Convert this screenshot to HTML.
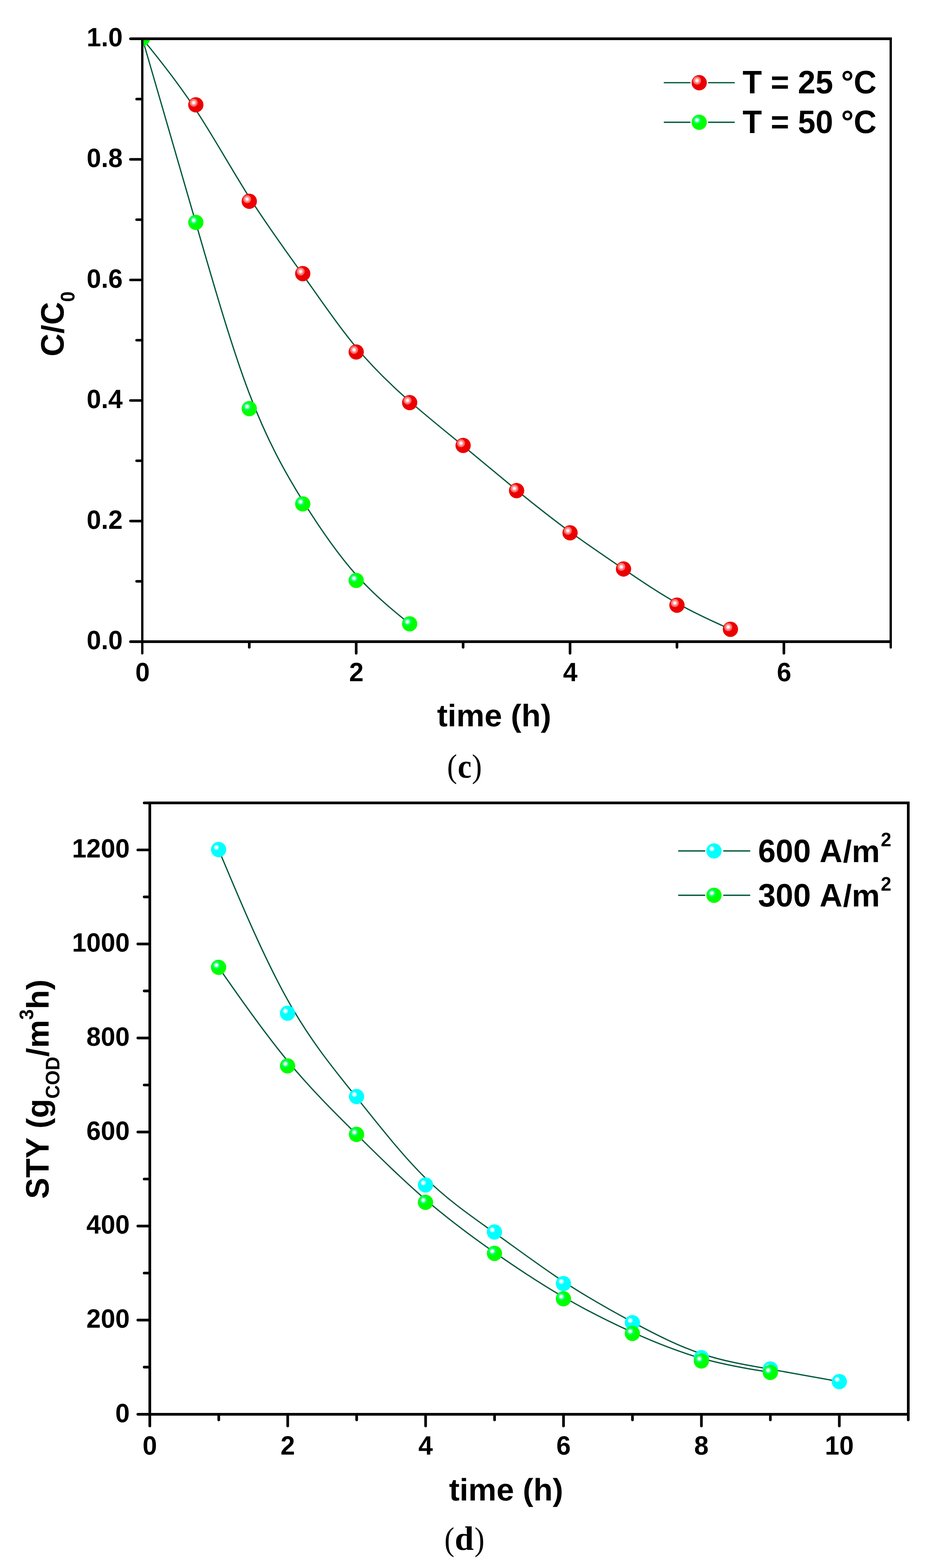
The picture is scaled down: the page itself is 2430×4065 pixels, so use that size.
<!DOCTYPE html>
<html lang="en"><head><meta charset="utf-8"><title>Figure (c) and (d)</title>
<style>
html,body{margin:0;padding:0;background:#fff;}
body{width:2430px;height:4065px;}
svg{display:block;}
.ax{stroke:#000;fill:none;stroke-linecap:butt;}
.tk{stroke:#000;fill:none;stroke-linecap:round;}
.cv{stroke:#00593a;fill:none;stroke-width:3.3;stroke-linecap:round;stroke-linejoin:round;}
text{font-family:"Liberation Sans",Arial,Helvetica,sans-serif;font-weight:bold;fill:#000;font-kerning:none;font-variant-ligatures:none;text-rendering:geometricPrecision;white-space:pre;}
.cap{font-family:"Liberation Serif","Times New Roman",serif;font-weight:normal;}
.capb{font-family:"Liberation Serif","Times New Roman",serif;font-weight:bold;}
</style></head><body>
<svg width="2430" height="4065" viewBox="0 0 2430 4065" role="img" aria-label="Figure panels (c) and (d)">
<defs>
<g id="mr"><circle r="19.8" fill="#eb0000"/><circle cx="-5.6" cy="-5.6" r="10.5" fill="#ff6b6b"/><circle cx="-5.6" cy="-5.6" r="6.5" fill="#ffb0b0"/><circle cx="-5.6" cy="-5.6" r="3.55" fill="#fffafa"/></g>
<g id="mg"><circle r="19.8" fill="#00ff00"/><circle cx="-5.6" cy="-5.6" r="10.5" fill="#00ff64"/><circle cx="-5.6" cy="-5.6" r="6.5" fill="#8cffaa"/><circle cx="-5.6" cy="-5.6" r="3.55" fill="#f8fffa"/></g>
<g id="mc"><circle r="19.8" fill="#00ffff"/><circle cx="-5.6" cy="-5.6" r="10.5" fill="#00ffff"/><circle cx="-5.6" cy="-5.6" r="6.5" fill="#aaffff"/><circle cx="-5.6" cy="-5.6" r="3.55" fill="#f6ffff"/></g>
<clipPath id="cp1"><rect x="369" y="100.5" width="1941" height="1563"/></clipPath>
</defs>
<rect width="2430" height="4065" fill="#fff"/>
<g id="chart1">
<g clip-path="url(#cp1)">
<path class="cv" d="M369.2 99.9 C369.2 99.9 369.2 99.9 392.31 128.55 C415.41 157.2 461.63 214.5 507.84 284.82 C554.06 355.14 600.27 438.48 646.49 511.41 C692.7 584.34 738.91 646.84 785.13 711.96 C831.34 777.07 877.56 844.79 923.77 900.52 C969.99 956.26 1016.2 1000.02 1062.41 1040.38 C1108.63 1080.75 1154.84 1117.74 1201.06 1155.76 C1247.27 1193.79 1293.49 1232.86 1339.7 1270.62 C1385.91 1308.39 1432.13 1344.85 1478.34 1378.71 C1524.56 1412.57 1570.77 1443.82 1616.99 1475.08 C1663.2 1506.33 1709.41 1537.58 1755.63 1563.63 C1801.84 1589.67 1848.06 1610.51 1871.16 1620.93 C1894.27 1631.35 1894.27 1631.35 1894.27 1631.35"/>
<path class="cv" d="M369.2 99.9 C369.2 99.9 369.2 99.9 392.31 179.34 C415.41 258.77 461.63 417.65 507.84 577.57 C554.06 737.48 600.27 898.44 646.49 1020.07 C692.7 1141.7 738.91 1224 785.13 1298.23 C831.34 1372.46 877.56 1438.61 923.77 1490.44 C969.99 1542.27 1016.2 1579.78 1039.31 1598.53 C1062.41 1617.28 1062.41 1617.28 1062.41 1617.28"/>
<use href="#mr" x="507.84" y="271.8"/>
<use href="#mr" x="646.49" y="521.83"/>
<use href="#mr" x="785.13" y="709.35"/>
<use href="#mr" x="923.77" y="912.5"/>
<use href="#mr" x="1062.41" y="1043.77"/>
<use href="#mr" x="1201.06" y="1154.72"/>
<use href="#mr" x="1339.7" y="1271.92"/>
<use href="#mr" x="1478.34" y="1381.31"/>
<use href="#mr" x="1616.99" y="1475.08"/>
<use href="#mr" x="1755.63" y="1568.84"/>
<use href="#mr" x="1894.27" y="1631.35"/>
<use href="#mg" x="369.2" y="99.9"/>
<use href="#mg" x="507.84" y="576.52"/>
<use href="#mg" x="646.49" y="1059.4"/>
<use href="#mg" x="785.13" y="1306.3"/>
<use href="#mg" x="923.77" y="1504.77"/>
<use href="#mg" x="1062.41" y="1617.28"/>
</g>
<rect x="366" y="97" width="6" height="1570"/>
<rect x="2307" y="97" width="6" height="1570"/>
<rect x="366" y="97" width="1947" height="7"/>
<rect x="366" y="1660" width="1947" height="7"/>
<line class="tk" stroke-width="7" x1="338.5" y1="100.5" x2="369" y2="100.5"/>
<line class="tk" stroke-width="7" x1="338.5" y1="1663.5" x2="369" y2="1663.5"/>
<line class="tk" stroke-width="6" x1="369" y1="1663.5" x2="369" y2="1693.8"/>
<line class="tk" stroke-width="6" x1="2310" y1="1663.5" x2="2310" y2="1678.5"/>
<line class="tk" stroke-width="6.6" x1="354.3" y1="1507.12" x2="368" y2="1507.12"/>
<line class="tk" stroke-width="6.6" x1="338.3" y1="1350.84" x2="368" y2="1350.84"/>
<line class="tk" stroke-width="6.6" x1="354.3" y1="1194.56" x2="368" y2="1194.56"/>
<line class="tk" stroke-width="6.6" x1="338.3" y1="1038.28" x2="368" y2="1038.28"/>
<line class="tk" stroke-width="6.6" x1="354.3" y1="882" x2="368" y2="882"/>
<line class="tk" stroke-width="6.6" x1="338.3" y1="725.72" x2="368" y2="725.72"/>
<line class="tk" stroke-width="6.6" x1="354.3" y1="569.44" x2="368" y2="569.44"/>
<line class="tk" stroke-width="6.6" x1="338.3" y1="413.16" x2="368" y2="413.16"/>
<line class="tk" stroke-width="6.6" x1="354.3" y1="256.88" x2="368" y2="256.88"/>
<text class="rt" font-size="67.3" transform="translate(224.74 1683.2) scale(1 1.02)" xml:space="preserve">0.0</text>
<text class="rt" font-size="67.3" transform="translate(224.74 1370.64) scale(1 1.02)" xml:space="preserve">0.2</text>
<text class="rt" font-size="67.3" transform="translate(224.74 1058.08) scale(1 1.02)" xml:space="preserve">0.4</text>
<text class="rt" font-size="67.3" transform="translate(224.74 745.52) scale(1 1.02)" xml:space="preserve">0.6</text>
<text class="rt" font-size="67.3" transform="translate(224.74 432.96) scale(1 1.02)" xml:space="preserve">0.8</text>
<text class="rt" font-size="67.3" transform="translate(224.74 120.4) scale(1 1.02)" xml:space="preserve">1.0</text>
<line class="tk" stroke-width="6.8" x1="646.49" y1="1664.5" x2="646.49" y2="1678.1"/>
<line class="tk" stroke-width="6.8" x1="923.77" y1="1664.5" x2="923.77" y2="1693.6"/>
<line class="tk" stroke-width="6.8" x1="1201.06" y1="1664.5" x2="1201.06" y2="1678.1"/>
<line class="tk" stroke-width="6.8" x1="1478.34" y1="1664.5" x2="1478.34" y2="1693.6"/>
<line class="tk" stroke-width="6.8" x1="1755.63" y1="1664.5" x2="1755.63" y2="1678.1"/>
<line class="tk" stroke-width="6.8" x1="2032.91" y1="1664.5" x2="2032.91" y2="1693.6"/>
<text class="rt" font-size="67.3" transform="translate(350.99 1766.1) scale(1 1.02)" xml:space="preserve">0</text>
<text class="rt" font-size="67.3" transform="translate(905.56 1766.1) scale(1 1.02)" xml:space="preserve">2</text>
<text class="rt" font-size="67.3" transform="translate(1460.13 1766.1) scale(1 1.02)" xml:space="preserve">4</text>
<text class="rt" font-size="67.3" transform="translate(2014.7 1766.1) scale(1 1.02)" xml:space="preserve">6</text>
<text class="rt" font-size="82" transform="translate(1133.46 1883.1) scale(1 0.985)" xml:space="preserve">time (h)</text>
<text class="rt" font-size="82" transform="translate(165.1 924) rotate(-90) scale(1 1.027)" xml:space="preserve">C</text><text class="rt" font-size="82" transform="translate(165.1 864.78) rotate(-90) scale(1 0.985)" xml:space="preserve">/</text><text class="rt" font-size="82" transform="translate(165.1 842) rotate(-90) scale(1 1.027)" xml:space="preserve">C</text><text class="rt" font-size="49" transform="translate(192.6 782.78) rotate(-90) scale(1 1.0405)" xml:space="preserve">0</text>
<line class="cv" x1="1722.8" y1="214.4" x2="1789.4" y2="214.4"/>
<line class="cv" x1="1837.6" y1="214.4" x2="1904.2" y2="214.4"/>
<use href="#mr" x="1813.3" y="214.4"/>
<text class="rt" font-size="82" transform="translate(1925.8 242.2) scale(1 1.027)" xml:space="preserve">T = 25</text><text class="rt" font-size="82" transform="translate(2158.55 242.2) scale(1 1.027)" xml:space="preserve"> °C</text>
<line class="cv" x1="1722.8" y1="317.0" x2="1789.4" y2="317.0"/>
<line class="cv" x1="1837.6" y1="317.0" x2="1904.2" y2="317.0"/>
<use href="#mg" x="1813.3" y="317"/>
<text class="rt" font-size="82" transform="translate(1925.8 344.8) scale(1 1.027)" xml:space="preserve">T = 50</text><text class="rt" font-size="82" transform="translate(2158.55 344.8) scale(1 1.027)" xml:space="preserve"> °C</text>
<text class="cap" font-size="86" transform="translate(1159.5 2014.7) scale(0.905 1)" xml:space="preserve">(</text><text class="capb" font-size="88" transform="translate(1187 2015.5) scale(0.92 1)" xml:space="preserve">c</text><text class="cap" font-size="86" transform="translate(1223.7 2014.7) scale(0.905 1)" xml:space="preserve">)</text>
</g>
<g id="chart2">
<path class="cv" d="M566.86 2202.4 C566.86 2202.4 566.86 2202.4 596.67 2273.12 C626.48 2343.83 686.11 2485.27 745.73 2591.99 C805.35 2698.71 864.97 2770.73 924.59 2844.94 C984.21 2919.15 1043.83 2995.55 1103.45 3054.08 C1163.08 3112.6 1222.7 3153.24 1282.32 3195.87 C1341.94 3238.51 1401.56 3283.13 1461.18 3322.31 C1520.8 3361.49 1580.42 3395.22 1640.05 3427.24 C1699.67 3459.27 1759.29 3489.59 1818.91 3509.6 C1878.53 3529.62 1938.15 3539.33 1997.77 3549.65 C2057.39 3559.98 2117.02 3570.91 2146.83 3576.38 C2176.64 3581.84 2176.64 3581.84 2176.64 3581.84"/>
<path class="cv" d="M566.86 2507.7 C566.86 2507.7 566.86 2507.7 596.67 2550.29 C626.48 2592.88 686.11 2678.07 745.73 2750.27 C805.35 2822.46 864.97 2881.68 924.59 2940.63 C984.21 2999.58 1043.83 3058.26 1103.45 3109.67 C1163.08 3161.08 1222.7 3205.22 1282.32 3246.9 C1341.94 3288.58 1401.56 3327.79 1461.18 3362.4 C1520.8 3397.01 1580.42 3427 1640.05 3453.86 C1699.67 3480.73 1759.29 3504.46 1818.91 3521.29 C1878.53 3538.11 1938.15 3548.03 1967.96 3552.99 C1997.77 3557.94 1997.77 3557.94 1997.77 3557.94"/>
<use href="#mc" x="566.86" y="2202.4"/>
<use href="#mc" x="745.73" y="2626.7"/>
<use href="#mc" x="924.59" y="2842.74"/>
<use href="#mc" x="1103.45" y="3071.96"/>
<use href="#mc" x="1282.32" y="3193.88"/>
<use href="#mc" x="1461.18" y="3327.75"/>
<use href="#mc" x="1640.05" y="3428.95"/>
<use href="#mc" x="1818.91" y="3519.9"/>
<use href="#mc" x="1997.77" y="3549.04"/>
<use href="#mc" x="2176.64" y="3581.84"/>
<use href="#mg" x="566.86" y="2507.7"/>
<use href="#mg" x="745.73" y="2763.25"/>
<use href="#mg" x="924.59" y="2940.89"/>
<use href="#mg" x="1103.45" y="3116.95"/>
<use href="#mg" x="1282.32" y="3249.36"/>
<use href="#mg" x="1461.18" y="3367.01"/>
<use href="#mg" x="1640.05" y="3456.99"/>
<use href="#mg" x="1818.91" y="3528.2"/>
<use href="#mg" x="1997.77" y="3557.94"/>
<rect x="385" y="2078" width="7" height="1592"/>
<rect x="2352" y="2078" width="7" height="1592"/>
<rect x="385" y="2078" width="1974" height="7"/>
<rect x="385" y="3663" width="1974" height="7"/>
<line class="tk" stroke-width="7" x1="374" y1="2081.5" x2="388.5" y2="2081.5"/>
<line class="tk" stroke-width="7" x1="357.5" y1="3666.5" x2="388.5" y2="3666.5"/>
<line class="tk" stroke-width="7" x1="388.5" y1="3666.5" x2="388.5" y2="3696.7"/>
<line class="tk" stroke-width="7" x1="2355.5" y1="3666.5" x2="2355.5" y2="3681"/>
<line class="tk" stroke-width="6.9" x1="373.95" y1="3544.21" x2="387.5" y2="3544.21"/>
<line class="tk" stroke-width="6.9" x1="357.45" y1="3422.32" x2="387.5" y2="3422.32"/>
<line class="tk" stroke-width="6.9" x1="373.95" y1="3300.42" x2="387.5" y2="3300.42"/>
<line class="tk" stroke-width="6.9" x1="357.45" y1="3178.53" x2="387.5" y2="3178.53"/>
<line class="tk" stroke-width="6.9" x1="373.95" y1="3056.64" x2="387.5" y2="3056.64"/>
<line class="tk" stroke-width="6.9" x1="357.45" y1="2934.75" x2="387.5" y2="2934.75"/>
<line class="tk" stroke-width="6.9" x1="373.95" y1="2812.85" x2="387.5" y2="2812.85"/>
<line class="tk" stroke-width="6.9" x1="357.45" y1="2690.96" x2="387.5" y2="2690.96"/>
<line class="tk" stroke-width="6.9" x1="373.95" y1="2569.07" x2="387.5" y2="2569.07"/>
<line class="tk" stroke-width="6.9" x1="357.45" y1="2447.18" x2="387.5" y2="2447.18"/>
<line class="tk" stroke-width="6.9" x1="373.95" y1="2325.28" x2="387.5" y2="2325.28"/>
<line class="tk" stroke-width="6.9" x1="357.45" y1="2203.39" x2="387.5" y2="2203.39"/>
<text class="rt" font-size="67.3" transform="translate(298.97 3686.8) scale(1 1.02)" xml:space="preserve">0</text>
<text class="rt" font-size="67.3" transform="translate(224.11 3442.12) scale(1 1.02)" xml:space="preserve">200</text>
<text class="rt" font-size="67.3" transform="translate(224.11 3198.33) scale(1 1.02)" xml:space="preserve">400</text>
<text class="rt" font-size="67.3" transform="translate(224.11 2954.55) scale(1 1.02)" xml:space="preserve">600</text>
<text class="rt" font-size="67.3" transform="translate(224.11 2710.76) scale(1 1.02)" xml:space="preserve">800</text>
<text class="rt" font-size="67.3" transform="translate(186.68 2466.98) scale(1 1.02)" xml:space="preserve">1000</text>
<text class="rt" font-size="67.3" transform="translate(186.68 2223.19) scale(1 1.02)" xml:space="preserve">1200</text>
<line class="tk" stroke-width="6.9" x1="567.32" y1="3667.5" x2="567.32" y2="3681.05"/>
<line class="tk" stroke-width="6.9" x1="746.14" y1="3667.5" x2="746.14" y2="3696.75"/>
<line class="tk" stroke-width="6.9" x1="924.95" y1="3667.5" x2="924.95" y2="3681.05"/>
<line class="tk" stroke-width="6.9" x1="1103.77" y1="3667.5" x2="1103.77" y2="3696.75"/>
<line class="tk" stroke-width="6.9" x1="1282.59" y1="3667.5" x2="1282.59" y2="3681.05"/>
<line class="tk" stroke-width="6.9" x1="1461.41" y1="3667.5" x2="1461.41" y2="3696.75"/>
<line class="tk" stroke-width="6.9" x1="1640.23" y1="3667.5" x2="1640.23" y2="3681.05"/>
<line class="tk" stroke-width="6.9" x1="1819.05" y1="3667.5" x2="1819.05" y2="3696.75"/>
<line class="tk" stroke-width="6.9" x1="1997.86" y1="3667.5" x2="1997.86" y2="3681.05"/>
<line class="tk" stroke-width="6.9" x1="2176.68" y1="3667.5" x2="2176.68" y2="3696.75"/>
<text class="rt" font-size="67.3" transform="translate(369.79 3771) scale(1 1.02)" xml:space="preserve">0</text>
<text class="rt" font-size="67.3" transform="translate(727.42 3771) scale(1 1.02)" xml:space="preserve">2</text>
<text class="rt" font-size="67.3" transform="translate(1085.06 3771) scale(1 1.02)" xml:space="preserve">4</text>
<text class="rt" font-size="67.3" transform="translate(1442.69 3771) scale(1 1.02)" xml:space="preserve">6</text>
<text class="rt" font-size="67.3" transform="translate(1800.33 3771) scale(1 1.02)" xml:space="preserve">8</text>
<text class="rt" font-size="67.3" transform="translate(2139.25 3771) scale(1 1.02)" xml:space="preserve">10</text>
<text class="rt" font-size="82" transform="translate(1164.46 3889.6) scale(1 0.985)" xml:space="preserve">time (h)</text>
<text class="rt" font-size="82" transform="translate(126 3108) rotate(-90) scale(1 1.027)" xml:space="preserve">STY</text><text class="rt" font-size="82" transform="translate(126 2948.52) rotate(-90) scale(1 0.985)" xml:space="preserve"> (g</text><text class="rt" font-size="49" transform="translate(153.5 2848.35) rotate(-90) scale(1 1.0405)" xml:space="preserve">COD</text><text class="rt" font-size="82" transform="translate(126 2739.46) rotate(-90) scale(1 0.985)" xml:space="preserve">/m</text><text class="rt" font-size="49" transform="translate(86 2643.77) rotate(-90) scale(1 1.0405)" xml:space="preserve">3</text><text class="rt" font-size="82" transform="translate(126 2616.52) rotate(-90) scale(1 0.985)" xml:space="preserve">h)</text>
<line class="cv" x1="1760" y1="2206" x2="1827.8" y2="2206"/>
<line class="cv" x1="1877" y1="2206" x2="1944.4" y2="2206"/>
<use href="#mc" x="1851.6" y="2206"/>
<text class="rt" font-size="82" transform="translate(1966 2235.1) scale(1 1.027)" xml:space="preserve">600 A</text><text class="rt" font-size="82" transform="translate(2186.31 2235.1) scale(1 0.985)" xml:space="preserve">/m</text><text class="rt" font-size="49" transform="translate(2284.21 2193.8) scale(1 1.0405)" xml:space="preserve">2</text>
<line class="cv" x1="1760" y1="2321.0" x2="1827.8" y2="2321.0"/>
<line class="cv" x1="1877" y1="2321.0" x2="1944.4" y2="2321.0"/>
<use href="#mg" x="1851.6" y="2321"/>
<text class="rt" font-size="82" transform="translate(1966 2350.1) scale(1 1.027)" xml:space="preserve">300 A</text><text class="rt" font-size="82" transform="translate(2186.31 2350.1) scale(1 0.985)" xml:space="preserve">/m</text><text class="rt" font-size="49" transform="translate(2284.21 2308.8) scale(1 1.0405)" xml:space="preserve">2</text>
<text class="cap" font-size="86" transform="translate(1152.5 4018.6) scale(0.905 1)" xml:space="preserve">(</text><text class="capb" font-size="88" transform="translate(1179.2 4018.3) scale(1.01 1)" xml:space="preserve">d</text><text class="cap" font-size="86" transform="translate(1230.5 4018.6) scale(0.905 1)" xml:space="preserve">)</text>
</g>
</svg>
</body></html>
